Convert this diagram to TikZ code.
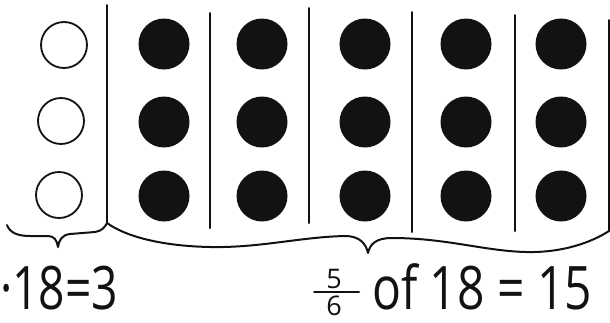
\documentclass[tikz,border=0pt]{standalone}
\usepackage{fontspec}
\setmainfont{Open Sans}
\usetikzlibrary{positioning}
\definecolor{Ink}{HTML}{121212}

\begin{document}
\begin{tikzpicture}[x=1pt,y=-1pt]
    \tikzset{
      ink/.style={draw=Ink,line width=2pt,line cap=round,line join=round},
      emptydot/.style={circle,draw=Ink,line width=1.8pt,minimum size=46pt,inner sep=0pt},
      fulldot/.style={circle,fill=Ink,minimum size=51pt,inner sep=0pt},
      handtext/.style={font=\fontsize{60}{60}\selectfont,text=Ink,inner sep=0pt},
      fracdigit/.style={font=\fontsize{27}{27}\selectfont,text=Ink,inner sep=0pt}
    }
    \useasboundingbox (0,0) rectangle (610,322);
    \foreach \dv/\xx/\yt/\yb in {d0/107/5/223,d1/210/13/228,d2/309/8/223,
                                 d3/412/12/232,d4/515/15/231,d5/609/20/231}{
      \coordinate (\dv top) at (\xx,\yt);
      \coordinate (\dv bot) at (\xx,\yb);
      \draw[ink] (\dv top) -- (\dv bot);
    }
    \foreach \r/\yy/\xx in {1/45/64,2/121/61,3/195/59}
      \node[emptydot] (empty\r) at (\xx,\yy) {};
    \foreach \c/\xx in {1/164,2/262,3/365,4/466,5/561}
      \foreach \r/\yy in {1/44,2/122,3/196}
        \node[fulldot] (full\c\r) at (\xx,\yy) {};

    \coordinate (lefttip) at (58,247);
    \coordinate (righttip) at (368,253);
    \draw[ink] (7,225) .. controls (10,233) and (18,236) .. (30,236) -- (48,236)
          .. controls (54,236) and (57,240) .. (lefttip)
          .. controls (59,240) and (62,235) .. (70,234) -- (95,232)
          .. controls (102,231) and (105,227) .. (d0bot);
    \draw[ink] (d0bot) .. controls (125,236) and (160,246) .. (210,247)
          .. controls (260,248) and (300,237) .. (345,236)
          .. controls (360,236) and (366,244) .. (righttip)
          .. controls (370,244) and (376,238) .. (392,238)
          .. controls (450,238) and (490,253) .. (535,252)
          .. controls (570,251) and (595,240) .. (d5bot);

    \node[handtext,anchor=base west] (partsum) at (0,309) {\scalebox{0.77}[1]{·18=3}};
    \node[fracdigit] (fivetop) at (334,279) {5};
    \node[fracdigit] (sixbot) at (334,306) {6};
    \draw[ink] (314,292) -- (359,292);
    \node[handtext,anchor=base west] (restsum) at (372,309) {\scalebox{0.8}[1]{of 18 = 15}};
\end{tikzpicture}
\end{document}
